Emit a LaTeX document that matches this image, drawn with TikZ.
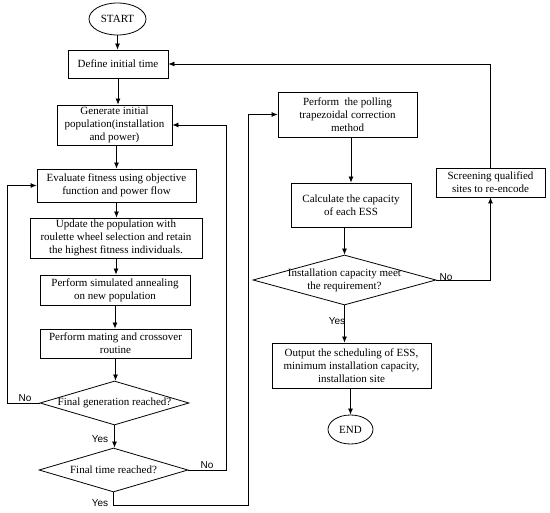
\documentclass[tikz,border=0pt]{standalone}
\usepackage{fontspec}
\setmainfont{Liberation Serif}
\newfontfamily\lblfont{Liberation Sans}
\usetikzlibrary{shapes.geometric,arrows.meta}
\begin{document}
\begin{tikzpicture}[x=1pt,y=-1pt,
  box/.style={draw, rectangle, align=center, inner sep=0pt, line width=0.8pt,
    font=\fontsize{11}{13}\selectfont},
  dia/.style={draw, diamond, inner sep=0pt, line width=0.8pt},
  diatext/.style={align=center, inner sep=0pt, font=\fontsize{11}{13}\selectfont},
  term/.style={draw, ellipse, inner sep=0pt, line width=0.8pt, font=\fontsize{11}{13}\selectfont},
  lbl/.style={inner sep=0pt, font=\lblfont\fontsize{10}{12}\selectfont},
  arr/.style={-{Latex[length=6pt,width=5pt]}, line width=0.8pt},
  ln/.style={line width=0.8pt}]
\useasboundingbox (0,0) rectangle (550,513);
% left column
\node[term, minimum width=57pt, minimum height=32pt] (start) at (117.5,19) {START};
\node[box, minimum width=100pt, minimum height=28pt] (def) at (118,64) {Define initial time};
\node[box, minimum width=115pt, minimum height=40pt] (gen) at (114.5,125) {Generate initial\\population(installation\\and power)};
\node[box, minimum width=159pt, minimum height=33pt] (eval) at (116.5,185.5) {Evaluate fitness using objective\\function and power flow};
\node[box, minimum width=172pt, minimum height=40pt] (upd) at (116,238) {Update the population with\\roulette wheel selection and retain\\the highest fitness individuals.};
\node[box, minimum width=150pt, minimum height=30pt] (ann) at (115,290) {Perform simulated annealing\\on new population};
\node[box, minimum width=151pt, minimum height=29pt] (mate) at (115.5,343.5) {Perform mating and crossover\\routine};
\node[dia, minimum width=149pt, minimum height=44pt] (fg) at (114.5,403) {};
\node[diatext] at (fg.center) {Final generation reached?};
\node[dia, minimum width=149pt, minimum height=44pt] (ft) at (113.5,470) {};
\node[diatext] at (ft.center) {Final time reached?};
% right column
\node[box, minimum width=139pt, minimum height=45pt] (pol) at (347.5,114.5) {Perform~ the polling\\trapezoidal correction\\method};
\node[box, minimum width=120pt, minimum height=44pt] (calc) at (351,205) {Calculate the capacity\\of each ESS};
\node[dia, minimum width=183pt, minimum height=50pt] (cap) at (344.5,280) {};
\node[diatext] at (cap.center) {Installation capacity meet\\the requirement?};
\node[box, minimum width=109pt, minimum height=29pt] (scr) at (490.5,182.5) {Screening qualified\\sites to re-encode};
\node[box, minimum width=159pt, minimum height=45pt] (out) at (351.5,365.5) {Output the scheduling of ESS,\\minimum installation capacity,\\installation site};
\node[term, minimum width=45pt, minimum height=29pt] (end) at (350.5,429.5) {END};
% coordinates
\coordinate (nol) at (7,403);
\coordinate (nor) at (226,470);
\coordinate (yb) at (248,505);
% connectors
\draw[arr] (start.south) -- (start.south |- def.north);
\draw[arr] (def.south) -- (def.south |- gen.north);
\draw[arr] (eval.north |- gen.south) -- (eval.north);
\draw[arr] (eval.south) -- (eval.south |- upd.north);
\draw[arr] (upd.south) -- (upd.south |- ann.north);
\draw[arr] (ann.south) -- (ann.south |- mate.north);
\draw[arr] (mate.south) -- (mate.south |- fg.north);
\draw[arr] (fg.south) -- (fg.south |- ft.north);
\draw[arr] (fg.west) -- (nol) |- (eval.west);
\draw[arr] (ft.east) -- (nor) |- (gen.east);
\draw[arr] (ft.south) |- (yb) |- (pol.west);
\draw[arr] (calc.north |- pol.south) -- (calc.north);
\draw[arr] (cap.north |- calc.south) -- (cap.north);
\draw[arr] (cap.east) -| (scr.south);
\draw[arr] (scr.north) |- (def.east);
\draw[arr] (cap.south) -- (cap.south |- out.north);
\draw[arr] (end.north |- out.south) -- (end.north);
% labels
\node[lbl] (l1) at (25,398) {No};
\node[lbl] (l2) at (100,439) {Yes};
\node[lbl] (l3) at (207,465) {No};
\node[lbl] (l4) at (100,503) {Yes};
\node[lbl] (l5) at (446,277) {No};
\node[lbl] (l6) at (337,321) {Yes};
\end{tikzpicture}
\end{document}
